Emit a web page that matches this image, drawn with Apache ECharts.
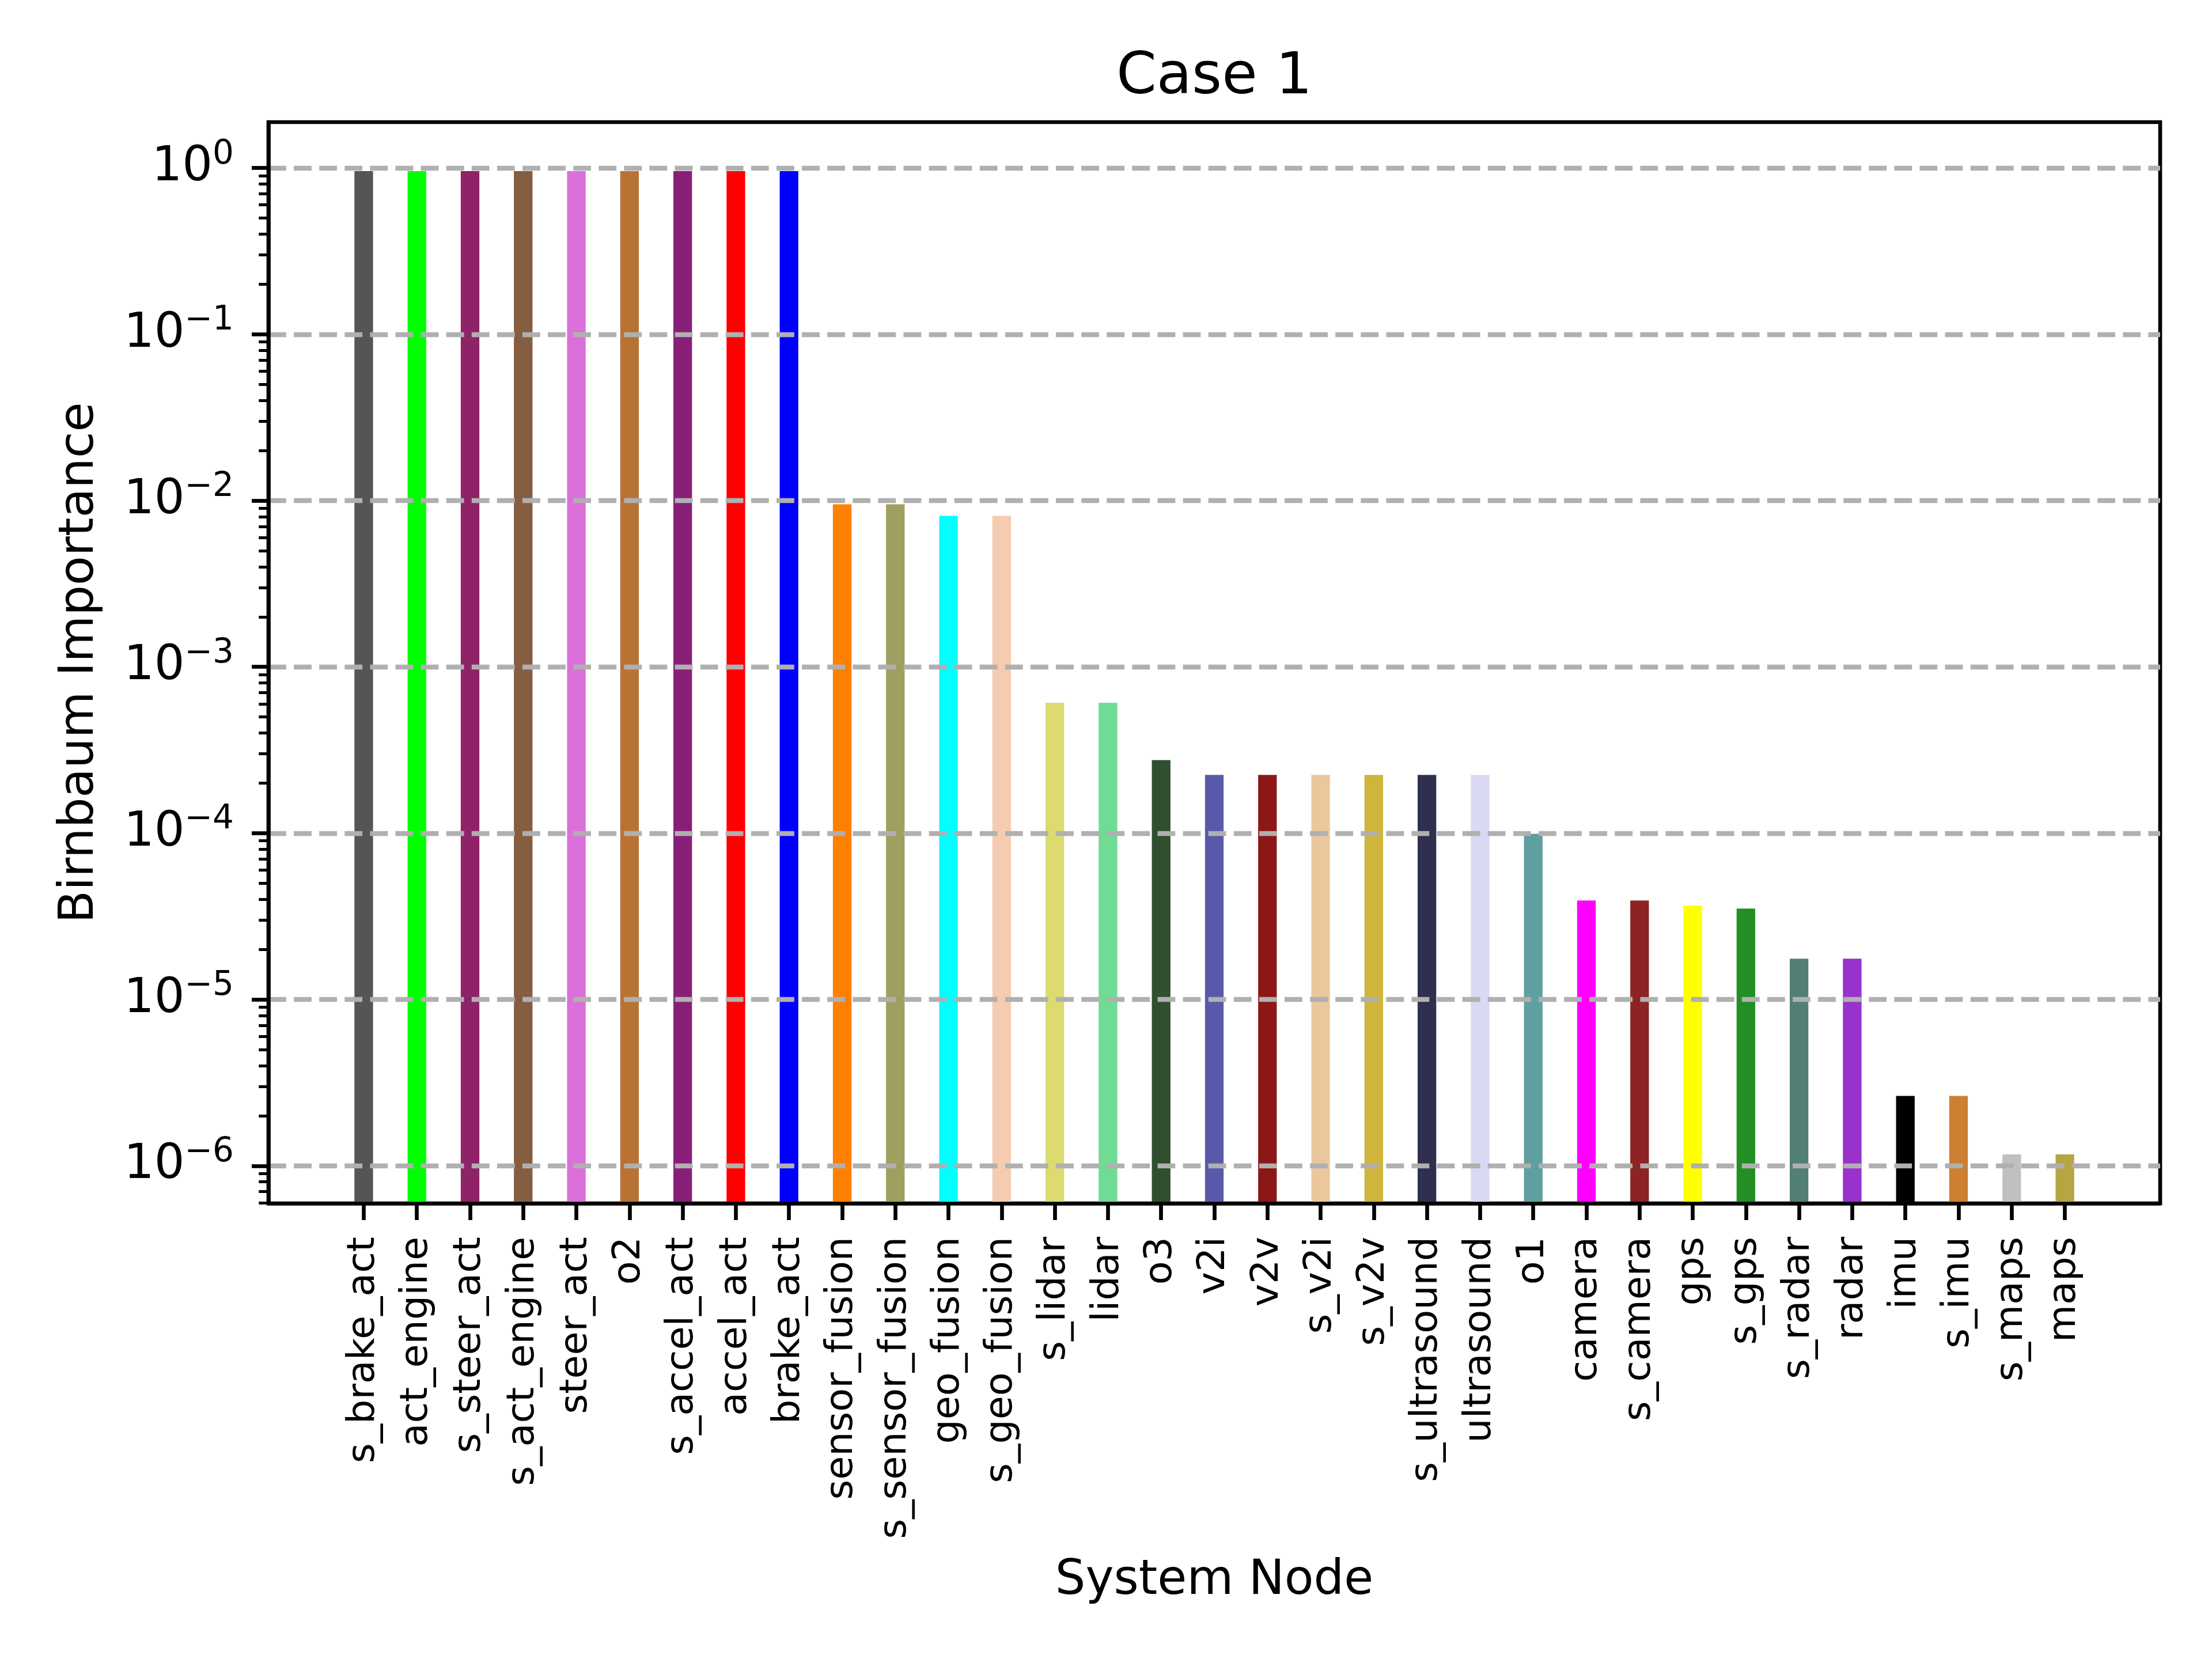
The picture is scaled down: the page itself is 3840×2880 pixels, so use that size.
<!DOCTYPE html>
<html>
<head>
<meta charset="utf-8">
<script src="https://cdn.jsdelivr.net/npm/echarts@6/dist/echarts.min.js"></script>
<style>
  html, body { margin: 0; padding: 0; background: #fff; }
  #chart { width: 3840px; height: 2880px; }
</style>
</head>
<body>
<div id="chart"></div>
<script>
// data
var nodes = ['s_brake_act', 'act_engine', 's_steer_act', 's_act_engine', 'steer_act', 'o2',
  's_accel_act', 'accel_act', 'brake_act', 'sensor_fusion', 's_sensor_fusion', 'geo_fusion',
  's_geo_fusion', 's_lidar', 'lidar', 'o3', 'v2i', 'v2v', 's_v2i', 's_v2v', 's_ultrasound',
  'ultrasound', 'o1', 'camera', 's_camera', 'gps', 's_gps', 's_radar', 'radar', 'imu', 's_imu',
  's_maps', 'maps'];

var importance = [0.958, 0.958, 0.958, 0.958, 0.958, 0.958,
  0.958, 0.958, 0.958, 0.0095, 0.0095, 0.0081,
  0.0081, 6.08e-4, 6.08e-4, 2.75e-4, 2.24e-4, 2.24e-4, 2.24e-4, 2.24e-4, 2.24e-4,
  2.24e-4, 9.92e-5, 3.94e-5, 3.94e-5, 3.67e-5, 3.52e-5, 1.76e-5, 1.76e-5, 2.63e-6, 2.63e-6,
  1.17e-6, 1.17e-6];

var barColors = ['#555555', '#00ff00', '#8e2368', '#855e42', '#db70db', '#b87333',
  '#871f78', '#ff0000', '#0000ff', '#ff7f00', '#9f9f5f', '#00ffff',
  '#f5ccb0', '#dbdb70', '#70db93', '#2f4f2f', '#5959ab', '#8c1717', '#ebc79e', '#cfb53b', '#2f2f4f',
  '#d9d9f3', '#5f9f9f', '#ff00ff', '#8e2323', '#ffff00', '#238e23', '#527f76', '#9932cd', '#000000', '#cd7f32',
  '#c0c0c0', '#b5a642'];

// y axis in powers of ten
var majorExps = [-6, -5, -4, -3, -2, -1, 0];
var minorMults = [2, 3, 4, 5, 6, 7, 8, 9];
var yMinExp = -6.226;
var yMaxExp = 0.276;

var xMargin = 1.7925;   // units of category spacing, left & right
var barWidthRatio = 0.35;

// layout (px)
var plotLeft = 466, plotTop = 212, plotW = 3284, plotH = 1877;
var unit = plotW / (nodes.length - 1 + 2 * xMargin);
var bandLeft = plotLeft + (xMargin - 0.5) * unit;

var minorExps = [];
for (var e = -7; e <= 0; e++) {
  minorMults.forEach(function (m) {
    var v = e + Math.log10(m);
    if (v > yMinExp && v < yMaxExp) minorExps.push(v);
  });
}

var font = 'DejaVu Sans';
var lw = 6.67;

function expLabel(v) {
  var n = Math.round(v);
  return '{b|10}{s|' + (n < 0 ? '\u2212' + (-n) : n) + '}';
}

var chart = echarts.init(document.getElementById('chart'), null, { renderer: 'canvas' });

var option = {
  animation: false,
  backgroundColor: '#ffffff',
  grid: [
    { left: plotLeft, top: plotTop, width: plotW, height: plotH,
      show: true, borderColor: '#000', borderWidth: lw, backgroundColor: 'transparent' },
    { left: bandLeft, top: plotTop, width: nodes.length * unit, height: plotH }
  ],
  xAxis: [
    { gridIndex: 0, type: 'value', min: 0, max: 1, z: 10, position: 'bottom',
      axisLine: { show: true, onZero: false, lineStyle: { color: '#000', width: lw } },
      axisTick: { show: false }, axisLabel: { show: false }, splitLine: { show: false } },
    { gridIndex: 1, type: 'category', data: nodes, boundaryGap: true, position: 'bottom',
      axisLine: { show: false, onZero: false },
      axisTick: { show: true, alignWithLabel: true, length: 29, lineStyle: { color: '#000', width: lw } },
      axisLabel: { interval: 0, rotate: 90, margin: 58, color: '#000', fontSize: 66.7, fontFamily: font },
      splitLine: { show: false } }
  ],
  yAxis: [
    { gridIndex: 0, type: 'value', min: yMinExp, max: yMaxExp, position: 'left', z: 10,
      axisLine: { show: true, onZero: false, lineStyle: { color: '#000', width: lw } },
      axisTick: { show: true, length: 29, customValues: majorExps, lineStyle: { color: '#000', width: lw } },
      axisLabel: {
        customValues: majorExps, margin: 60, color: '#000',
        formatter: expLabel,
        rich: {
          b: { fontSize: 83, fontFamily: font, color: '#000', lineHeight: 100 },
          s: { fontSize: 58, fontFamily: font, color: '#000', lineHeight: 100, padding: [0, 0, 46, 0] }
        }
      },
      splitLine: { show: true, lineStyle: { color: '#b0b0b0', width: 8.33, type: [30.8, 13.3] } } },
    { gridIndex: 0, type: 'value', min: yMinExp, max: yMaxExp, position: 'left', z: 10,
      axisLine: { show: false, onZero: false },
      axisTick: { show: true, length: 16.7, customValues: minorExps, lineStyle: { color: '#000', width: 5 } },
      axisLabel: { show: false }, splitLine: { show: false } },
    { gridIndex: 1, type: 'value', min: yMinExp, max: yMaxExp, show: false }
  ],
  series: [{
    type: 'custom',
    xAxisIndex: 1,
    yAxisIndex: 2,
    data: importance.map(function (v, i) { return [i, Math.log10(v)]; }),
    renderItem: function (params, api) {
      var i = api.value(0);
      var top = api.coord([i, api.value(1)]);
      var base = api.coord([i, yMinExp]);
      var w = api.size([1, 0])[0] * barWidthRatio;
      return {
        type: 'rect',
        shape: { x: top[0] - w / 2, y: top[1], width: w, height: base[1] - top[1] },
        style: { fill: barColors[params.dataIndex] }
      };
    }
  }],
  graphic: [
    { type: 'text', x: plotLeft + plotW / 2, y: 136,
      style: { text: 'Case 1', font: '100px "DejaVu Sans"', fill: '#000',
        align: 'center', verticalAlign: 'middle', textAlign: 'center', textVerticalAlign: 'middle' } },
    { type: 'text', x: plotLeft + plotW / 2, y: 2745,
      style: { text: 'System Node', font: '83px "DejaVu Sans"', fill: '#000',
        align: 'center', verticalAlign: 'middle', textAlign: 'center', textVerticalAlign: 'middle' } },
    { type: 'text', x: 139, y: plotTop + plotH / 2, rotation: Math.PI / 2,
      style: { text: 'Birnbaum Importance', font: '83px "DejaVu Sans"', fill: '#000',
        align: 'center', verticalAlign: 'middle', textAlign: 'center', textVerticalAlign: 'middle' } }
  ]
};

chart.setOption(option);
</script>
</body>
</html>
